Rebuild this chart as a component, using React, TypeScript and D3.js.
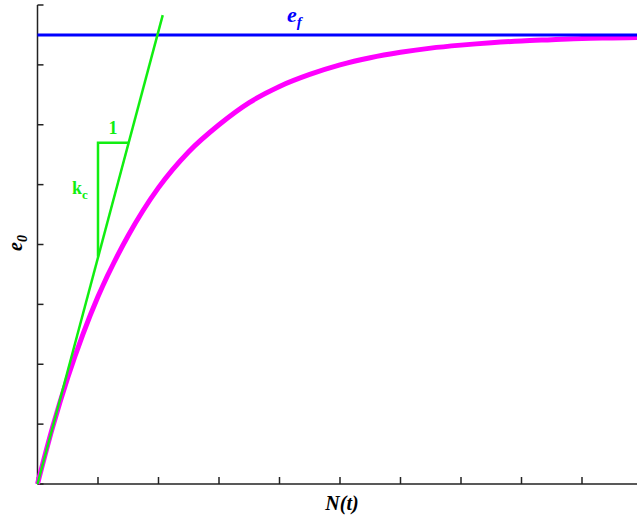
import React from "react";
import * as d3 from "d3";

const W = 637;
const H = 519;

const xTicks = [0, 1, 2, 3, 4, 5, 6, 7, 8, 9, 10];
const yTicks = [0, 1, 2, 3, 4, 5, 6, 7, 8];

// magenta response curve e0 vs N(t)
const curveT = [0, 0.25, 0.5, 0.75, 1, 1.5, 2, 2.5, 3, 3.5, 4, 4.5, 5, 5.5, 6, 6.5, 7, 7.5, 8, 8.5, 9, 9.5, 10];
const curveE = [0, 0.95, 1.78, 2.5, 3.13, 4.15, 4.95, 5.55, 6.0, 6.37, 6.64, 6.84, 7.0, 7.12, 7.21, 7.28, 7.33, 7.37, 7.4, 7.42, 7.44, 7.45, 7.46];

// asymptote e_f
const efValue = 7.5;
const efSpan = [0, 10];

// initial tangent (slope k_c)
const tangentT = [0, 2.07];
const tangentE = [0, 7.83];

// slope triangle
const triT = [1, 1, 1.5];
const triE = [3.8, 5.7, 5.7];

const GREEN = "#11ee11";
const FONT = "'Liberation Serif', 'Times New Roman', serif";

export default function App() {
  const x = d3.scaleLinear().domain([0, 10]).range([37.5, 642.5]);
  const y = d3.scaleLinear().domain([0, 8]).range([484, 5]);

  const line = d3
    .line<[number, number]>()
    .x((d) => x(d[0]))
    .y((d) => y(d[1]));
  const smooth = d3
    .line<[number, number]>()
    .x((d) => x(d[0]))
    .y((d) => y(d[1]))
    .curve(d3.curveMonotoneX);

  const curvePts: [number, number][] = curveT.map((t, i) => [t, curveE[i]]);
  const tangentPts: [number, number][] = tangentT.map((t, i) => [t, tangentE[i]]);
  const triPts: [number, number][] = triT.map((t, i) => [t, triE[i]]);
  const efPts: [number, number][] = efSpan.map((t) => [t, efValue]);

  const x0 = x(0);
  const y0 = y(0);

  return (
    <svg
      width={W}
      height={H}
      style={{ position: "absolute", left: 0, top: 0, background: "#fff" }}
    >
      <rect x={0} y={0} width={W} height={H} fill="#fff" />
      {/* axes */}
      <line x1={x0} y1={y(8)} x2={x0} y2={y0} stroke="#222" strokeWidth={1.5} />
      <line x1={x0} y1={y0} x2={W + 10} y2={y0} stroke="#222" strokeWidth={1.5} />
      {yTicks.map((t) => (
        <line key={"yt" + t} x1={x0} x2={x0 + 6} y1={y(t)} y2={y(t)} stroke="#222" strokeWidth={1.5} />
      ))}
      {xTicks.map((t) => (
        <line key={"xt" + t} x1={x(t)} x2={x(t)} y1={y0} y2={y0 - 7} stroke="#222" strokeWidth={1.5} />
      ))}

      {/* curve */}
      <path d={smooth(curvePts) || ""} fill="none" stroke="#ff00ff" strokeWidth={5} />
      {/* asymptote */}
      <path d={line(efPts) || ""} fill="none" stroke="#0000ff" strokeWidth={3} />
      {/* tangent and triangle */}
      <path d={line(tangentPts) || ""} fill="none" stroke={GREEN} strokeWidth={2.5} />
      <path d={line(triPts) || ""} fill="none" stroke={GREEN} strokeWidth={2.5} />

      {/* labels */}
      <text x={287} y={22} fill="#0000ff" fontFamily={FONT} fontWeight="bold" fontStyle="italic" fontSize={22}>
        e
        <tspan fontSize={15} dy={5}>f</tspan>
      </text>
      <text x={113} y={134} fill={GREEN} fontFamily={FONT} fontWeight="bold" fontSize={18} textAnchor="middle">
        1
      </text>
      <text x={72} y={194} fill={GREEN} fontFamily={FONT} fontWeight="bold" fontSize={18}>
        k
        <tspan fontSize={13} dy={5}>c</tspan>
      </text>
      <text
        transform={`translate(22,243) rotate(-90)`}
        fill="#000"
        fontFamily={FONT}
        fontWeight="bold"
        fontStyle="italic"
        fontSize={20}
        textAnchor="middle"
      >
        e
        <tspan fontSize={14} dy={5}>0</tspan>
      </text>
      <text x={342} y={510} fill="#000" fontFamily={FONT} fontWeight="bold" fontStyle="italic" fontSize={20} textAnchor="middle">
        N(t)
      </text>
    </svg>
  );
}
